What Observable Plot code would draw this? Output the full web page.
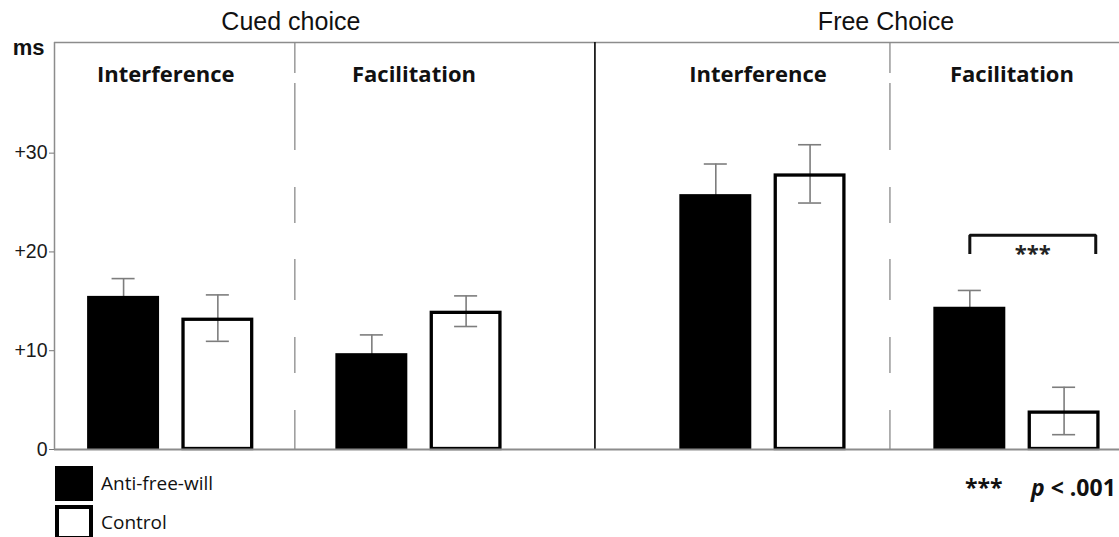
<!DOCTYPE html>
<html>
<head>
<meta charset="utf-8">
<script src="https://cdn.jsdelivr.net/npm/d3@7"></script>
<script src="https://cdn.jsdelivr.net/npm/@observablehq/plot@0.6"></script>
<style>
  html, body { margin: 0; padding: 0; background: #fff; overflow: hidden; }
  #wrap { width: 1119px; height: 537px; overflow: hidden; position: relative; }
  #legend { position: relative; width: 1119px; height: 76px; font-family: "Open Sans", sans-serif; color: #111; }
  .sw { position: absolute; left: 55px; width: 38px; height: 35px; box-sizing: border-box; }
  .lt { position: absolute; left: 101px; font-size: 19px; line-height: 20px; }
  .nt { position: absolute; top: 13px; font-size: 23px; font-weight: bold; white-space: pre; line-height: 26px; color: #111; }
</style>
</head>
<body>
<div id="wrap">
  <div id="chart"></div>
  <div id="legend"></div>
</div>
<script>
// ---------- data ----------
const conditions = ["Cued choice", "Free Choice"];
const effects = ["Interference", "Facilitation"];
const groups = ["Anti-free-will", "Control"];
// order: Cued-Interference, Cued-Facilitation, Free-Interference, Free-Facilitation
const antiMeans = [15.5, 9.7, 25.8, 14.4];
const antiErrors = [1.8, 1.9, 3.1, 1.7];
const controlMeans = [13.3, 14.0, 27.9, 3.9];
const controlErrors = [2.35, 1.55, 2.95, 2.4];
const yTicks = [0, 10, 20, 30];
const yTickLabels = ["0", "+10", "+20", "+30"];
const yUnit = "ms";
const sigCondition = "Free Choice";
const sigEffect = "Facilitation";
const sigLabel = "***";
const sigLow = 19.8;
const sigHigh = 21.7;
const sigNoteStars = "***";
const sigNoteP = "p";
const sigNoteRest = " < .001";
const yMax = 41.2;

// ---------- layout (abstract units: one bar = 1) ----------
const barWidth = 1, pairGap = 0.31;
const panelLayout = {
  "Cued choice": {padLeft: 0.46, effectGap: 1.14, padRight: 1.29},
  "Free Choice": {padLeft: 1.18, effectGap: 1.22, padRight: 0.27}
};

const rows = [];
const pairs = [];
const panels = [];
const effectDividers = [];
const conditionDividers = [];
let u = 0;
conditions.forEach((c, ci) => {
  const L = panelLayout[c];
  const panelStart = u;
  u += L.padLeft;
  effects.forEach((e, ei) => {
    if (ei > 0) { effectDividers.push({condition: c, x: u + L.effectGap / 2}); u += L.effectGap; }
    const k = ci * effects.length + ei;
    const pairStart = u;
    groups.forEach((g, gi) => {
      const x1 = u, x2 = u + barWidth;
      const mean = gi === 0 ? antiMeans[k] : controlMeans[k];
      const err = gi === 0 ? antiErrors[k] : controlErrors[k];
      rows.push({condition: c, effect: e, group: g, mean, err, x1, x2, xc: (x1 + x2) / 2, lo: mean - err, hi: mean + err});
      u = x2 + (gi === 0 ? pairGap : 0);
    });
    pairs.push({condition: c, effect: e, xc: (pairStart + u) / 2});
  });
  u += L.padRight;
  panels.push({condition: c, start: panelStart, end: u});
  if (ci < conditions.length - 1) conditionDividers.push({x: u});
});
const xTotal = u;
panels.forEach(p => {
  const d = effectDividers.find(d => d.condition === p.condition);
  p.xc = d ? d.x : (p.start + p.end) / 2;
});

// significance bracket
const sA = rows.find(r => r.condition === sigCondition && r.effect === sigEffect && r.group === groups[0]);
const sC = rows.find(r => r.condition === sigCondition && r.effect === sigEffect && r.group === groups[1]);
const bx1 = sA.xc, bx2 = sC.xc + 0.44;
const bracket = [{x: bx1, y: sigLow}, {x: bx1, y: sigHigh}, {x: bx2, y: sigHigh}, {x: bx2, y: sigLow}];

const capHalf = 0.16;
const antiRows = rows.filter(r => r.group === groups[0]);
const ctrlRows = rows.filter(r => r.group === groups[1]);

const chart = Plot.plot({
  width: 1119,
  height: 461,
  marginLeft: 54,
  marginRight: 0,
  marginTop: 42,
  marginBottom: 12,
  style: {fontFamily: "'Liberation Sans', Arial, sans-serif", fontSize: "19px", color: "#222", background: "#fff"},
  x: {type: "linear", domain: [0, xTotal], axis: null},
  y: {domain: [0, yMax], axis: null},
  marks: [
    // frame lines
    Plot.ruleY([yMax], {stroke: "#8c8c8c", strokeWidth: 1.5}),
    Plot.ruleX([0], {stroke: "#8c8c8c", strokeWidth: 1.5}),
    // dividers
    Plot.ruleX(effectDividers, {x: "x", y1: 0, y2: yMax, stroke: "#8a8a8a", strokeWidth: 1.3,
      strokeDasharray: "39,37,36,37,41,36,36,37,67,10,40"}),
    Plot.ruleX(conditionDividers, {x: "x", y1: 0, y2: yMax, stroke: "#111", strokeWidth: 1.7}),
    // axis
    Plot.axisY({ticks: yTicks, tickFormat: d => yTickLabels[yTicks.indexOf(d)], tickSize: 5, tickPadding: 2,
      fontSize: 19.5, stroke: "#777", fill: "#1a1a1a", label: null}),
    Plot.text([yUnit], {x: 0, y: 40.6, text: d => d, textAnchor: "end", dx: -10, fontSize: 22, fontWeight: "bold", fill: "#111"}),
    // error bars
    Plot.ruleX(rows, {x: "xc", y1: "lo", y2: "hi", stroke: "#7d7d7d", strokeWidth: 1.6}),
    Plot.ruleY(rows, {x1: d => d.xc - capHalf, x2: d => d.xc + capHalf, y: "hi", stroke: "#7d7d7d", strokeWidth: 1.6}),
    Plot.ruleY(ctrlRows, {x1: d => d.xc - capHalf, x2: d => d.xc + capHalf, y: "lo", stroke: "#7d7d7d", strokeWidth: 1.6}),
    // bars
    Plot.rectY(antiRows, {x1: "x1", x2: "x2", y1: 0, y2: "mean", fill: "#000"}),
    Plot.rectY(ctrlRows, {x1: "x1", x2: "x2", y1: 0, y2: "mean", fill: "none", stroke: "#000", strokeWidth: 3.3,
      insetLeft: 1.65, insetRight: 1.65, insetTop: 1.65, insetBottom: 0.5}),
    // baseline
    Plot.ruleY([0], {stroke: "#8c8c8c", strokeWidth: 2}),
    // significance bracket
    Plot.line(bracket, {x: "x", y: "y", stroke: "#111", strokeWidth: 3, strokeLinejoin: "miter", strokeLinecap: "butt"}),
    Plot.text([sigLabel], {x: (bx1 + bx2) / 2, y: (sigLow + sigHigh) / 2 - 1.0, text: d => d,
      fontFamily: "'Open Sans', sans-serif", fontWeight: "bold", fontSize: 22, fill: "#222"}),
    // effect labels
    Plot.text(pairs, {x: "xc", y: 37.9, text: "effect", dx: -5, fontFamily: "'Open Sans', sans-serif",
      fontWeight: "bold", fontSize: 22, fill: "#111"}),
    // panel titles
    Plot.text(panels, {x: "xc", y: 43.3, text: "condition", dx: -4, fontSize: 25, fill: "#111"})
  ]
});
document.getElementById("chart").appendChild(chart);

// ---------- legend (HTML, below the SVG) ----------
const legend = document.getElementById("legend");
const items = [
  {label: groups[0], top: 5, style: "background:#000;"},
  {label: groups[1], top: 44, style: "background:#fff;border:4.5px solid #000;"}
];
items.forEach(it => {
  const sw = document.createElement("div");
  sw.className = "sw";
  sw.style.cssText = `top:${it.top}px;${it.style}`;
  legend.appendChild(sw);
  const t = document.createElement("div");
  t.className = "lt";
  t.style.top = (it.top + 7) + "px";
  t.textContent = it.label;
  legend.appendChild(t);
});
const stars = document.createElement("div");
stars.className = "nt";
stars.style.left = "965px";
stars.textContent = sigNoteStars;
legend.appendChild(stars);
const pnote = document.createElement("div");
pnote.className = "nt";
pnote.style.left = "1031px";
pnote.innerHTML = `<i>${sigNoteP}</i>${sigNoteRest}`;
legend.appendChild(pnote);
</script>
</body>
</html>
